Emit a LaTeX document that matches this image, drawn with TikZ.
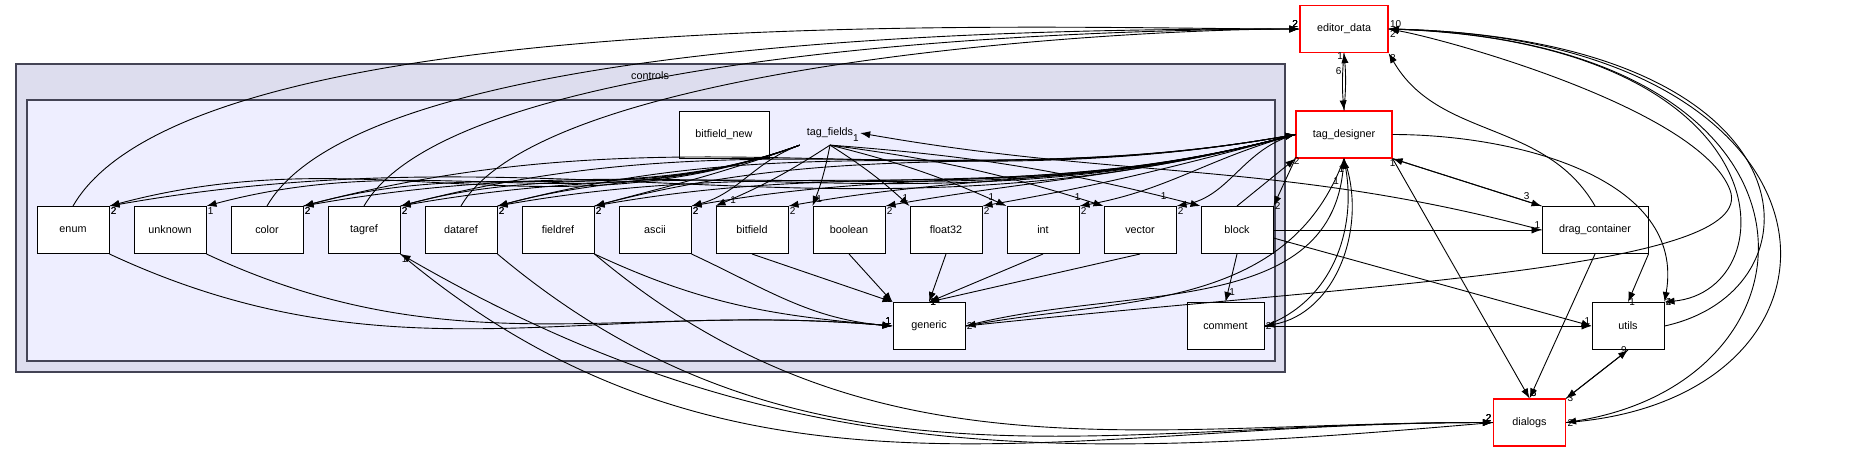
\documentclass[tikz,border=0pt]{standalone}
\usepackage{fontspec}
\setmainfont{Liberation Sans}
\usetikzlibrary{arrows.meta, positioning, calc}

\definecolor{outerfill}{HTML}{DDDDEE}
\definecolor{innerfill}{HTML}{EEEEFF}
\definecolor{clusterline}{HTML}{444455}

\tikzset{
  dir/.style={draw=black, fill=white, minimum width=36pt, minimum height=23.5pt,
    inner sep=0.5pt, line width=0.5pt, font=\fontsize{5.4}{6}\selectfont},
  extdir/.style={dir, draw=red, line width=0.6pt},
  dep/.style={-{Latex[length=5pt,width=3.6pt]}, black, line width=0.45pt},
  num/.style={font=\fontsize{5}{6}\selectfont, inner sep=0.5pt},
}

\begin{document}
\begin{tikzpicture}[x=0.5pt, y=-0.5pt]
\useasboundingbox (0,0) rectangle (1855,452);

		% Cluster
		\draw[clusterline, line width=0.7pt, fill=outerfill] (16,64) rectangle (1285,372);
		\draw[clusterline, line width=0.7pt, fill=innerfill] (27,100) rectangle (1275,361);
		\node[font=\fontsize{5.4}{6}\selectfont] (controls) at (650,76) {controls};
		\node[font=\fontsize{5.4}{6}\selectfont] (tf) at (830,133) {tag\_fields};

		% Directories
		\node[dir] (enum) at (73,230) {enum};
		\node[dir, right=12pt of enum] (unknown) {unknown};
		\node[dir, right=12pt of unknown] (color) {color};
		\node[dir, right=12pt of color] (tagref) {tagref};
		\node[dir, right=12pt of tagref] (dataref) {dataref};
		\node[dir, right=12pt of dataref] (fieldref) {fieldref};
		\node[dir, right=12pt of fieldref] (ascii) {ascii};
		\node[dir, right=12pt of ascii] (bitfield) {bitfield};
		\node[dir, right=12pt of bitfield] (boolean) {boolean};
		\node[dir, right=12pt of boolean] (float32) {float32};
		\node[dir, right=12pt of float32] (int) {int};
		\node[dir, right=12pt of int] (vector) {vector};
		\node[dir, right=12pt of vector] (block) {block};
		\node[dir, minimum width=45pt] (bfnew) at (724,134.5) {bitfield\_new};
		\node[dir] (generic) at (929,326) {generic};
		\node[dir, minimum width=38.5pt] (comment) at (1225.5,326) {comment};

		% Outside
		\node[extdir, minimum width=44pt] (ed) at (1344,29) {editor\_data};
		\node[extdir, minimum width=48pt] (td) at (1344,134.5) {tag\_designer};
		\node[dir, minimum width=53pt] (drag) at (1595,230) {drag\_container};
		\node[dir] (utils) at (1628,326) {utils};
		\node[extdir] (dialogs) at (1529.5,422.5) {dialogs};

		% tag_fields
		\foreach \n/\c in {enum/2, unknown/1, color/2, tagref/2, dataref/2, fieldref/2, ascii/2}
			\draw[dep] (tf.south west) to[out=200, in=15] node[num, pos=1, below right]{\c} (\n.north east);
		\foreach \n/\c in {bitfield/1, boolean/1, float32/1, int/1, vector/1, block/1}
			\draw[dep] (tf.south) to[bend left=5] node[num, pos=0.9, right]{\c} (\n.north west);

		% tag_designer
		\foreach \n in {enum, color, tagref, dataref, fieldref, ascii, bitfield, boolean, float32, int, vector}
			\draw[dep] (td.west) to[out=195, in=10] node[num, pos=1, below right]{2} (\n.north east);
		\draw[dep] (td.south west) -- node[num, pos=1, right]{2} (block.north east);
		\foreach \n in {color, tagref, dataref, fieldref}
			\draw[dep] (\n.north east) to[out=15, in=190] (td.west);
		\draw[dep] (block.north) -- node[num, pos=0.95, right]{2} (td.south west);
		\draw[dep] (drag.west) to[out=165, in=-10] node[num, pos=1, below left]{1} (tf.east);
		\draw[dep] (td.south) to[out=-110, in=10] node[num, pos=1, right]{2} (generic.east);
		\draw[dep] (generic.east) to[out=15, in=-95] node[num, pos=0.95, left]{1} (td.south);
		\draw[dep] (td.south) to[out=-70, in=10] node[num, pos=1, right]{2} (comment.east);
		\draw[dep] (comment.east) to[out=20, in=-80] node[num, pos=0.95, left]{1} (td.south);
		\draw[dep] (td.south east) -- node[num, pos=1, above right]{6} (dialogs.north);
		\draw[dep] (td.east) to[out=0, in=80] node[num, pos=1, right]{4} (utils.north east);
		\draw[dep] (td.south east) -- node[num, pos=0.9, above]{3} (drag.north west);
		\draw[dep] (drag.north west) -- node[num, pos=1, below]{1} (td.south east);
		\draw[dep] (td.north) to[out=85, in=-85] node[num, pos=0.95, left]{1} (ed.south);
		\draw[dep] (ed.south) to[out=-95, in=95] node[num, pos=0.3, left]{6} (td.north);

		% editor_data
		\foreach \n in {enum, color, tagref, dataref}
			\draw[dep] (\n.north) to[out=60, in=180, looseness=0.5] node[num, pos=1, above left]{2} (ed.west);
		\draw[dep] (generic.east) .. controls (1350,285) and (1760,270) .. (1730,190)
			.. controls (1700,110) and (1450,40) .. node[num, pos=1, below right]{2} (ed.east);
		\draw[dep] (drag.north) to[out=120, in=-60] node[num, pos=1, below right]{3} (ed.south east);
		\draw[dep] (utils.east) .. controls (1830,290) and (1820,40) .. node[num, pos=1, above right]{10} (ed.east);
		\draw[dep] (ed.east) .. controls (1790,40) and (1790,290) .. node[num, pos=1, right]{2} (utils.north east);
		\draw[dep] (dialogs.east) .. controls (1880,400) and (1870,40) .. (ed.east);
		\draw[dep] (ed.east) .. controls (1850,40) and (1840,380) .. node[num, pos=1, right]{2} (dialogs.east);

		% generic
		\foreach \n/\c in {enum/1, unknown/1, fieldref/1, ascii/1}
			\draw[dep] (\n.south east) to[out=-25, in=175] node[num, pos=1, above left]{\c} (generic.west);
		\foreach \n/\c in {bitfield/1, boolean/1}
			\draw[dep] (\n.south) -- node[num, pos=1, above left]{\c} (generic.north west);
		\foreach \n/\c in {float32/1, int/1, vector/1}
			\draw[dep] (\n.south) -- node[num, pos=1, right]{\c} (generic.north);

		% dialogs
		\foreach \n in {tagref, dataref, fieldref}
			\draw[dep] (\n.south east) to[out=-40, in=180] node[num, pos=1, above left]{2} (dialogs.west);
		\draw[dep] (dialogs.west) to[out=185, in=-30] node[num, pos=1, below right]{1} (tagref.south east);
		\draw[dep] (drag.south) -- node[num, pos=1, above right]{3} (dialogs.north);
		\draw[dep] (utils.south) -- node[num, pos=1, right]{3} (dialogs.north east);
		\draw[dep] (dialogs.north east) -- node[num, pos=1, left]{9} (utils.south);

		% block, comment, drag_container
		\draw[dep] (block.south) -- node[num, pos=0.8, right]{1} (comment.north);
		\draw[dep] (block.east) -- node[num, pos=1, above left]{1} (drag.west);
		\draw[dep] ([yshift=-4pt]block.east) -- node[num, pos=1, above left]{1} (utils.west);
		\draw[dep] (comment.east) -- (utils.west);
		\draw[dep] (drag.south east) -- node[num, pos=1, right]{1} (utils.north);
	\end{tikzpicture}
\end{document}
